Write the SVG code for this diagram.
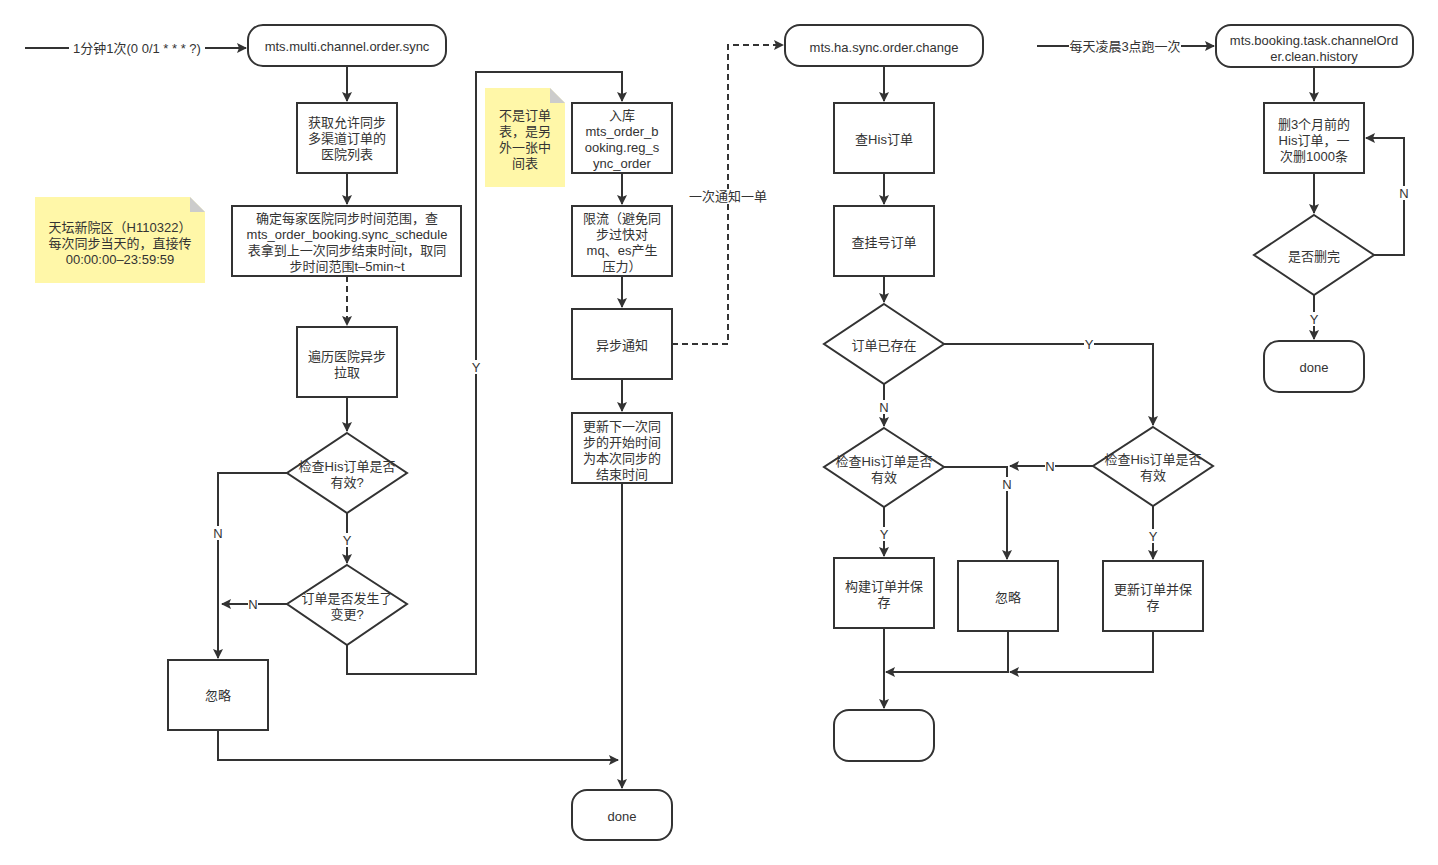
<svg xmlns="http://www.w3.org/2000/svg" width="1438" height="865" viewBox="0 0 1438 865">
<style>
text{font-family:"Liberation Sans","Noto Sans CJK SC",sans-serif;font-size:13px;fill:#333;text-anchor:middle;dominant-baseline:central}
.n rect,.n path{fill:#fff;stroke:#333;stroke-width:2}
.c path{fill:none;stroke:#333;stroke-width:2}
.c .d{stroke-dasharray:6 4}
.c rect{fill:#fff;stroke:none}
.note rect{fill:#fff7a8}
.note path{fill:#cccccc}
</style>
<defs>
<marker id="a" viewBox="0 0 10 10" refX="9" refY="5" markerWidth="10" markerHeight="10" markerUnits="userSpaceOnUse" orient="auto">
<path d="M0,0 L10,5 L0,10 L2,5 z" fill="#333"/>
</marker>
</defs>
<g class="c">
<path d="M25,48 H246" marker-end="url(#a)"/>
<path d="M347,66 V101" marker-end="url(#a)"/>
<path d="M347,173 V204" marker-end="url(#a)"/>
<path class="d" d="M347,276 V325" marker-end="url(#a)"/>
<path d="M347,397 V431" marker-end="url(#a)"/>
<path d="M347,513 V563" marker-end="url(#a)"/>
<path d="M287,473 H218 V658" marker-end="url(#a)"/>
<path d="M287,604 H222" marker-end="url(#a)"/>
<path d="M347,645 V674 H476 V72 H622 V101" marker-end="url(#a)"/>
<path d="M218,730 V760 H618" marker-end="url(#a)"/>
<path d="M622,173 V204" marker-end="url(#a)"/>
<path d="M622,276 V307" marker-end="url(#a)"/>
<path d="M622,379 V411" marker-end="url(#a)"/>
<path d="M622,483 V788" marker-end="url(#a)"/>
<path class="d" d="M672,344 H728 V45 H783" marker-end="url(#a)"/>
<path d="M884,66 V101" marker-end="url(#a)"/>
<path d="M884,173 V204" marker-end="url(#a)"/>
<path d="M884,276 V302" marker-end="url(#a)"/>
<path d="M884,384 V426" marker-end="url(#a)"/>
<path d="M944,344 H1153 V425" marker-end="url(#a)"/>
<path d="M1093,466 H1010" marker-end="url(#a)"/>
<path d="M944,467 H1007 V559" marker-end="url(#a)"/>
<path d="M884,507 V556" marker-end="url(#a)"/>
<path d="M1153,506 V559" marker-end="url(#a)"/>
<path d="M884,628 V708" marker-end="url(#a)"/>
<path d="M1008,631 V672 H886" marker-end="url(#a)"/>
<path d="M1153,631 V672 H1010" marker-end="url(#a)"/>
<path d="M1037,46 H1214" marker-end="url(#a)"/>
<path d="M1314,67 V101" marker-end="url(#a)"/>
<path d="M1314,173 V213" marker-end="url(#a)"/>
<path d="M1374,255 H1404 V138 H1366" marker-end="url(#a)"/>
<path d="M1314,295 V339" marker-end="url(#a)"/>
<rect x="69" y="41" width="136" height="14"/><text x="137" y="48">1分钟1次(0 0/1 * * * ?)</text>
<rect x="213" y="526" width="10" height="14"/><text x="218" y="533">N</text>
<rect x="248" y="597" width="10" height="14"/><text x="253" y="604">N</text>
<rect x="342" y="533" width="10" height="14"/><text x="347" y="540">Y</text>
<rect x="471" y="360" width="10" height="14"/><text x="476" y="367">Y</text>
<rect x="689" y="189" width="78" height="14"/><text x="728" y="196">一次通知一单</text>
<rect x="1084" y="337" width="10" height="14"/><text x="1089" y="344">Y</text>
<rect x="879" y="400" width="10" height="14"/><text x="884" y="407">N</text>
<rect x="1045" y="459" width="10" height="14"/><text x="1050" y="466">N</text>
<rect x="1002" y="477" width="10" height="14"/><text x="1007" y="484">N</text>
<rect x="879" y="527" width="10" height="14"/><text x="884" y="534">Y</text>
<rect x="1148" y="529" width="10" height="14"/><text x="1153" y="536">Y</text>
<rect x="1069" y="39" width="112" height="14"/><text x="1125" y="46">每天凌晨3点跑一次</text>
<rect x="1399" y="186" width="10" height="14"/><text x="1404" y="193">N</text>
<rect x="1309" y="312" width="10" height="14"/><text x="1314" y="319">Y</text>
</g>
<g id="note1" class="note">
<rect x="35" y="197" width="170" height="86"/>
<path d="M190,197 L205,212 L205,197 z" style="fill:#fff"/>
<path d="M190,197 L205,212 L190,212 z"/>
<text x="120" y="227">天坛新院区（H110322）</text>
<text x="120" y="243">每次同步当天的，直接传</text>
<text x="120" y="259">00:00:00–23:59:59</text>
</g>
<g id="note2" class="note">
<rect x="485" y="88" width="80" height="99"/>
<path d="M550,88 L565,103 L565,88 z" style="fill:#fff"/>
<path d="M550,88 L565,103 L550,103 z"/>
<text x="525" y="115">不是订单</text>
<text x="525" y="131">表，是另</text>
<text x="525" y="147">外一张中</text>
<text x="525" y="163">间表</text>
</g>
<g id="start1" class="n"><rect x="248" y="25" width="198" height="41" rx="15"/><text x="347" y="46">mts.multi.channel.order.sync</text></g>
<g id="getList" class="n"><rect x="297" y="103" width="100" height="70"/><text x="347" y="122">获取允许同步</text><text x="347" y="138">多渠道订单的</text><text x="347" y="154">医院列表</text></g>
<g id="range" class="n"><rect x="232" y="206" width="229" height="70"/><text x="347" y="218">确定每家医院同步时间范围，查</text><text x="347" y="234">mts_order_booking.sync_schedule</text><text x="347" y="250">表拿到上一次同步结束时间t，取同</text><text x="347" y="266">步时间范围t–5min~t</text></g>
<g id="traverse" class="n"><rect x="297" y="327" width="100" height="70"/><text x="347" y="356">遍历医院异步</text><text x="347" y="372">拉取</text></g>
<g id="check1" class="n"><path d="M347,433 L407,473 L347,513 L287,473 z"/><text x="347" y="466">检查His订单是否</text><text x="347" y="482">有效?</text></g>
<g id="changed" class="n"><path d="M347,565 L407,604 L347,645 L287,604 z"/><text x="347" y="598">订单是否发生了</text><text x="347" y="614">变更?</text></g>
<g id="ignore1" class="n"><rect x="168" y="660" width="100" height="70"/><text x="218" y="695">忽略</text></g>
<g id="store" class="n"><rect x="572" y="103" width="100" height="70"/><text x="622" y="115">入库</text><text x="622" y="131">mts_order_b</text><text x="622" y="147">ooking.reg_s</text><text x="622" y="163">ync_order</text></g>
<g id="limit" class="n"><rect x="572" y="206" width="100" height="70"/><text x="622" y="218">限流（避免同</text><text x="622" y="234">步过快对</text><text x="622" y="250">mq、es产生</text><text x="622" y="266">压力）</text></g>
<g id="notify" class="n"><rect x="572" y="309" width="100" height="70"/><text x="622" y="345">异步通知</text></g>
<g id="update" class="n"><rect x="572" y="413" width="100" height="70"/><text x="622" y="426">更新下一次同</text><text x="622" y="442">步的开始时间</text><text x="622" y="458">为本次同步的</text><text x="622" y="474">结束时间</text></g>
<g id="done1" class="n"><rect x="572" y="790" width="100" height="50" rx="15"/><text x="622" y="816">done</text></g>
<g id="start2" class="n"><rect x="785" y="25" width="198" height="41" rx="15"/><text x="884" y="47">mts.ha.sync.order.change</text></g>
<g id="qHis" class="n"><rect x="834" y="103" width="100" height="70"/><text x="884" y="139">查His订单</text></g>
<g id="qReg" class="n"><rect x="834" y="206" width="100" height="70"/><text x="884" y="242">查挂号订单</text></g>
<g id="exists" class="n"><path d="M884,304 L944,344 L884,384 L824,344 z"/><text x="884" y="345">订单已存在</text></g>
<g id="check2" class="n"><path d="M884,428 L944,467 L884,507 L824,467 z"/><text x="884" y="461">检查His订单是否</text><text x="884" y="477">有效</text></g>
<g id="check3" class="n"><path d="M1153,427 L1213,466 L1153,506 L1093,466 z"/><text x="1153" y="459">检查His订单是否</text><text x="1153" y="475">有效</text></g>
<g id="build" class="n"><rect x="834" y="558" width="100" height="70"/><text x="884" y="586">构建订单并保</text><text x="884" y="602">存</text></g>
<g id="ignore2" class="n"><rect x="958" y="561" width="100" height="70"/><text x="1008" y="597">忽略</text></g>
<g id="upd2" class="n"><rect x="1103" y="561" width="100" height="70"/><text x="1153" y="589">更新订单并保</text><text x="1153" y="605">存</text></g>
<g id="end2" class="n"><rect x="834" y="710" width="100" height="51" rx="15"/></g>
<g id="start3" class="n"><rect x="1216" y="25" width="197" height="42" rx="15"/><text x="1314" y="40">mts.booking.task.channelOrd</text><text x="1314" y="56">er.clean.history</text></g>
<g id="del" class="n"><rect x="1264" y="103" width="100" height="70"/><text x="1314" y="124">删3个月前的</text><text x="1314" y="140">His订单，一</text><text x="1314" y="156">次删1000条</text></g>
<g id="delDone" class="n"><path d="M1314,215 L1374,255 L1314,295 L1254,255 z"/><text x="1314" y="256">是否删完</text></g>
<g id="done3" class="n"><rect x="1264" y="341" width="100" height="51" rx="15"/><text x="1314" y="367">done</text></g>
</svg>
